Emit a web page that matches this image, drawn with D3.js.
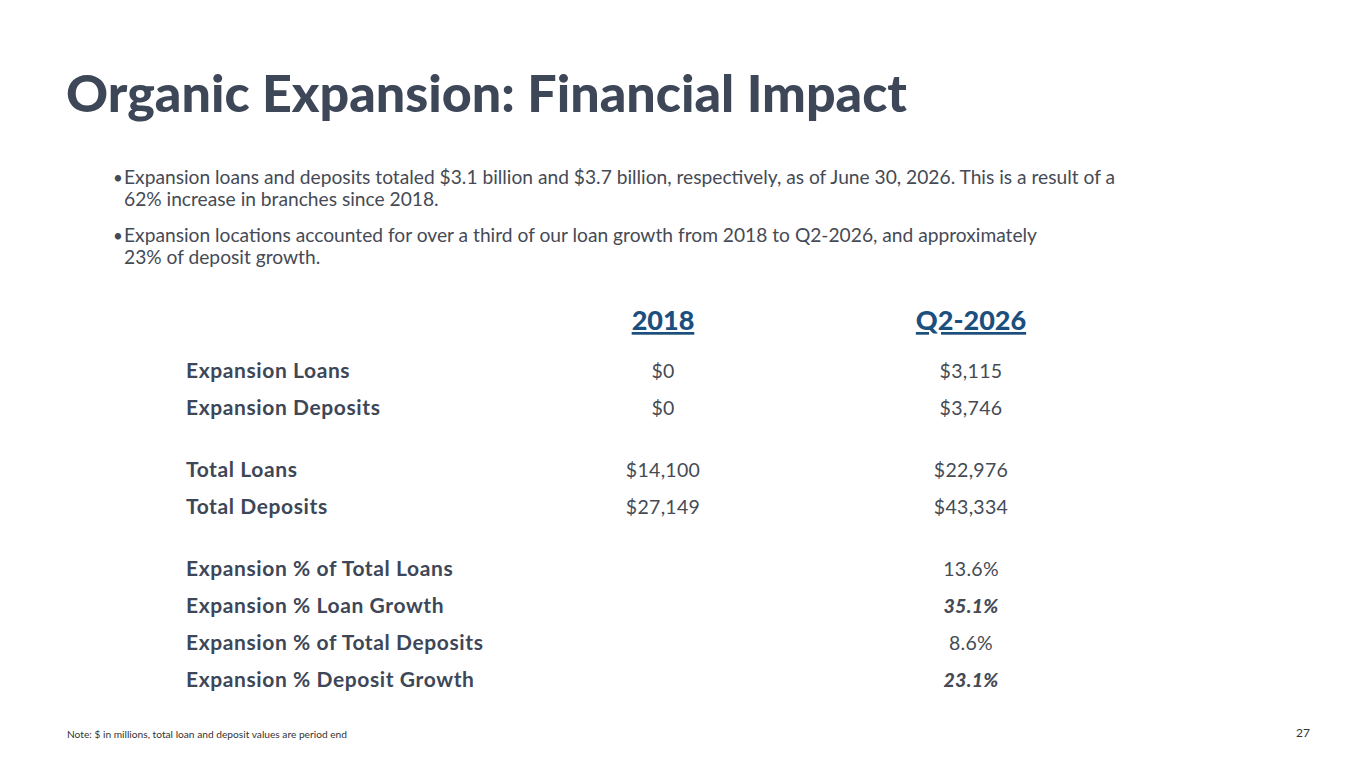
<!DOCTYPE html>
<html><head><meta charset="utf-8">
<script src="https://cdn.jsdelivr.net/npm/d3@7"></script>
<style>body{margin:0;background:#fff;}svg{display:block;font-family:Lato,"Open Sans",sans-serif;}</style>
</head><body>
<script>
// data
const columns = ["2018", "Q2-2026"];
const rowLabels = ["Expansion Loans", "Expansion Deposits", "Total Loans", "Total Deposits",
  "Expansion % of Total Loans", "Expansion % Loan Growth", "Expansion % of Total Deposits", "Expansion % Deposit Growth"];
const values2018 = ["$0", "$0", "$14,100", "$27,149", "", "", "", ""];
const valuesQ2 = ["$3,115", "$3,746", "$22,976", "$43,334", "13.6%", "35.1%", "8.6%", "23.1%"];
const emphasis = [false, false, false, false, false, true, false, true];
const rowGroup = [0, 0, 1, 1, 2, 2, 2, 2];
const bullets = [
  ["Expansion loans and deposits totaled $3.1 billion and $3.7 billion, respectively, as of June 30, 2026. This is a result of a", "62% increase in branches since 2018."],
  ["Expansion locations accounted for over a third of our loan growth from 2018 to Q2-2026, and approximately", "23% of deposit growth."]
];

const W = 1365, H = 768;
const svg = d3.select("body").append("svg").attr("width", W).attr("height", H);
const dark = "#3d4757", body = "#454a55", blue = "#1b4f7d";

svg.append("text").attr("x", 66).attr("y", 112).attr("fill", dark)
  .attr("font-size", 52).attr("font-weight", 900).text("Organic Expansion: Financial Impact");

bullets.forEach((b, i) => {
  const y0 = 184 + i * 58;
  svg.append("text").attr("x", 113).attr("y", y0).attr("fill", body).attr("font-size", 17).text("•");
  b.forEach((line, j) => svg.append("text").attr("x", 124).attr("y", y0 + j * 22)
    .attr("fill", body).attr("font-size", 19.2).text(line));
});

// row positions: groups separated by gaps
const rowY = d3.scaleLinear().domain([0, 1]).range([371, 408]);
const yFor = i => rowY(i) + rowGroup[i] * 25;
const x = d3.scalePoint().domain(columns).range([663, 971]);

columns.forEach(c => svg.append("text").attr("x", x(c)).attr("y", 330).attr("text-anchor", "middle")
  .attr("fill", blue).attr("font-size", 27).attr("font-weight", 900)
  .attr("text-decoration", "underline").text(c));

const rows = svg.selectAll("g.row").data(rowLabels).join("g").attr("class", "row")
  .attr("transform", (d, i) => `translate(0,${yFor(i) + 7})`);
rows.append("text").attr("x", 186).attr("fill", dark).attr("font-size", 21).attr("letter-spacing", 0.6)
  .attr("font-weight", 700).text(d => d);
rows.append("text").attr("x", x("2018")).attr("text-anchor", "middle").attr("fill", body)
  .attr("font-size", 19.5).attr("letter-spacing", 0.3).text((d, i) => values2018[i]);
rows.append("text").attr("x", x("Q2-2026")).attr("text-anchor", "middle").attr("fill", body)
  .attr("font-size", 19.5).attr("letter-spacing", 0.3).attr("font-weight", (d, i) => emphasis[i] ? 900 : 400)
  .attr("font-style", (d, i) => emphasis[i] ? "italic" : "normal").text((d, i) => valuesQ2[i]);

svg.append("text").attr("x", 67).attr("y", 738).attr("fill", "#333").attr("font-size", 10.2)
  .text("Note: $ in millions, total loan and deposit values are period end");
svg.append("text").attr("x", 1310).attr("y", 737).attr("text-anchor", "end").attr("fill", "#333").attr("font-size", 12).text("27");
</script>
</body></html>
